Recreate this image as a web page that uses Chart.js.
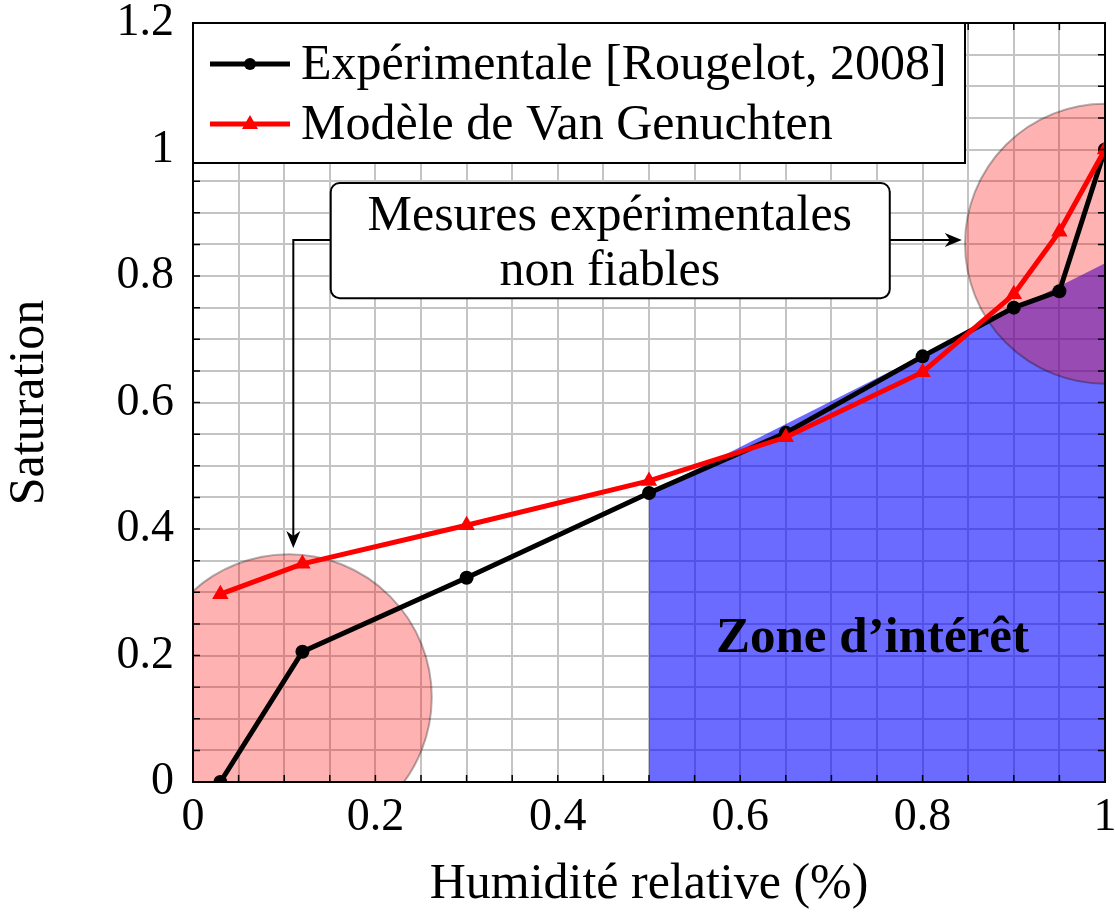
<!DOCTYPE html>
<html>
<head>
<meta charset="utf-8">
<script src="https://cdn.jsdelivr.net/npm/chart.js@4.4.1/dist/chart.umd.min.js"></script>
<style>
html, body { margin: 0; padding: 0; background: #fff; }
</style>
</head>
<body>
<canvas id="satChart" width="1115" height="915"></canvas>
<script>
// data
var humidity = [0.03, 0.12, 0.3, 0.5, 0.65, 0.8, 0.9, 0.95, 1];
var satExp = [0, 0.206, 0.323, 0.457, 0.552, 0.673, 0.75, 0.776, 1];
var satVG = [0.297, 0.345, 0.406, 0.476, 0.545, 0.648, 0.771, 0.87, 1];
var zoneX = [0.5, 1];
var zoneY = [0.457, 0.82];
var circleX = [0.105, 1];
var circleY = [0.134, 0.851];
var circleR = [143, 140];
var xTickLabels = ['0', '0.2', '0.4', '0.6', '0.8', '1'];
var yTickLabels = ['0', '0.2', '0.4', '0.6', '0.8', '1', '1.2'];
var seriesNames = ['Expérimentale [Rougelot, 2008]', 'Modèle de Van Genuchten'];
var noteLines = ['Mesures expérimentales', 'non fiables'];
var zoneLabel = 'Zone d\u2019intérêt';

var serif = "'Liberation Serif', 'Times New Roman', serif";

function pts(xs, ys) {
    return xs.map(function (x, i) { return { x: x, y: ys[i] }; });
}

function tickLabel(labels, value) {
    var i = Math.round(value / 0.05);
    if (i % 4 !== 0) return '';
    return labels[i / 4];
}

function arrowHead(ctx, x, y, dir) {
    ctx.beginPath();
    if (dir === 'down') {
        ctx.moveTo(x, y);
        ctx.lineTo(x - 7, y - 17);
        ctx.lineTo(x, y - 12);
        ctx.lineTo(x + 7, y - 17);
    } else {
        ctx.moveTo(x, y);
        ctx.lineTo(x - 17, y - 7);
        ctx.lineTo(x - 12, y);
        ctx.lineTo(x - 17, y + 7);
    }
    ctx.closePath();
    ctx.fill();
}

function roundRect(ctx, x, y, w, h, r) {
    ctx.beginPath();
    ctx.moveTo(x + r, y);
    ctx.lineTo(x + w - r, y);
    ctx.arcTo(x + w, y, x + w, y + r, r);
    ctx.lineTo(x + w, y + h - r);
    ctx.arcTo(x + w, y + h, x + w - r, y + h, r);
    ctx.lineTo(x + r, y + h);
    ctx.arcTo(x, y + h, x, y + h - r, r);
    ctx.lineTo(x, y + r);
    ctx.arcTo(x, y, x + r, y, r);
    ctx.closePath();
}

var decorations = {
    id: 'decorations',
    afterDraw: function (chart) {
        var ctx = chart.ctx;
        var xs = chart.scales.x, ys = chart.scales.y;
        var ca = chart.chartArea;
        ctx.save();

        // inward minor ticks
        ctx.strokeStyle = '#000';
        ctx.lineWidth = 1.5;
        ctx.beginPath();
        ys.ticks.forEach(function (t) {
            var py = ys.getPixelForValue(t.value);
            ctx.moveTo(ca.left, py); ctx.lineTo(ca.left + 7, py);
            ctx.moveTo(ca.right, py); ctx.lineTo(ca.right - 7, py);
        });
        xs.ticks.forEach(function (t) {
            var px = xs.getPixelForValue(t.value);
            ctx.moveTo(px, ca.bottom); ctx.lineTo(px, ca.bottom - 7);
            ctx.moveTo(px, ca.top); ctx.lineTo(px, ca.top + 7);
        });
        ctx.stroke();

        // frame
        ctx.lineWidth = 2;
        ctx.strokeRect(ca.left, ca.top, ca.right - ca.left, ca.bottom - ca.top);

        // legend box
        var lx = ca.left, ly = ca.top;
        ctx.fillStyle = '#fff';
        ctx.fillRect(lx, ly, 772, 140);
        ctx.strokeRect(lx, ly, 772, 140);
        var rows = [41, 101];
        var colors = ['#000', '#ff0000'];
        ctx.font = '50px ' + serif;
        ctx.textAlign = 'left';
        ctx.textBaseline = 'alphabetic';
        rows.forEach(function (dy, i) {
            var y = ly + dy;
            ctx.strokeStyle = colors[i];
            ctx.fillStyle = colors[i];
            ctx.lineWidth = 5;
            ctx.beginPath();
            ctx.moveTo(lx + 17, y); ctx.lineTo(lx + 97, y);
            ctx.stroke();
            ctx.beginPath();
            if (i === 0) {
                ctx.arc(lx + 57, y, 6, 0, Math.PI * 2);
            } else {
                ctx.moveTo(lx + 57, y - 9);
                ctx.lineTo(lx + 65, y + 5);
                ctx.lineTo(lx + 49, y + 5);
                ctx.closePath();
            }
            ctx.fill();
            ctx.fillStyle = '#000';
            ctx.fillText(seriesNames[i], lx + 108, y + 15);
        });

        // note box with arrows
        var bx0 = xs.getPixelForValue(0.151), bx1 = xs.getPixelForValue(0.764);
        var by0 = ys.getPixelForValue(0.947), by1 = ys.getPixelForValue(0.765);
        var ay = ys.getPixelForValue(0.857);
        var axl = xs.getPixelForValue(0.11), ayEnd = ys.getPixelForValue(0.37);
        var axr = xs.getPixelForValue(0.843);
        ctx.strokeStyle = '#000';
        ctx.fillStyle = '#000';
        ctx.lineWidth = 2;
        ctx.beginPath();
        ctx.moveTo(bx0, ay); ctx.lineTo(axl, ay); ctx.lineTo(axl, ayEnd - 8);
        ctx.moveTo(bx1, ay); ctx.lineTo(axr - 8, ay);
        ctx.stroke();
        arrowHead(ctx, axl, ayEnd, 'down');
        arrowHead(ctx, axr, ay, 'right');
        roundRect(ctx, bx0, by0, bx1 - bx0, by1 - by0, 9);
        ctx.fillStyle = '#fff';
        ctx.fill();
        ctx.stroke();
        ctx.fillStyle = '#000';
        ctx.textAlign = 'center';
        var cx = xs.getPixelForValue(0.457);
        ctx.fillText(noteLines[0], cx, ys.getPixelForValue(0.873));
        ctx.fillText(noteLines[1], cx, ys.getPixelForValue(0.786));

        // zone label
        ctx.font = 'bold 51px ' + serif;
        ctx.fillText(zoneLabel, xs.getPixelForValue(0.745), ys.getPixelForValue(0.205));
        ctx.restore();
    }
};

var ctx = document.getElementById('satChart').getContext('2d');
var satChart = new Chart(ctx, {
    type: 'line',
    data: {
        datasets: [{
            label: seriesNames[1],
            data: pts(humidity, satVG),
            borderColor: '#ff0000',
            backgroundColor: '#ff0000',
            borderWidth: 5,
            pointStyle: 'triangle',
            pointRadius: 9.5,
            pointBorderWidth: 0,
            fill: false,
            order: 0
        }, {
            label: seriesNames[0],
            data: pts(humidity, satExp),
            borderColor: '#000',
            backgroundColor: '#000',
            borderWidth: 5,
            pointStyle: 'circle',
            pointRadius: 7,
            pointBorderWidth: 0,
            fill: false,
            order: 1
        }, {
            type: 'bubble',
            label: 'zones',
            data: circleX.map(function (x, i) { return { x: x, y: circleY[i], r: circleR[i] }; }),
            backgroundColor: 'rgba(255,0,0,0.3)',
            borderColor: 'rgba(0,0,0,0.3)',
            borderWidth: 2,
            clip: 0,
            order: 2
        }, {
            label: 'zone',
            data: pts(zoneX, zoneY),
            borderColor: 'transparent',
            borderWidth: 0,
            backgroundColor: 'rgba(0,0,255,0.58)',
            pointRadius: 0,
            fill: 'origin',
            order: 3
        }]
    },
    options: {
        responsive: false,
        animation: false,
        events: [],
        layout: { autoPadding: false, padding: { top: 23, right: 10, left: 0, bottom: 0 } },
        plugins: {
            legend: { display: false },
            tooltip: { enabled: false }
        },
        scales: {
            x: {
                type: 'linear',
                min: 0,
                max: 1,
                afterFit: function (scale) {
                    scale.height = 133;
                    scale.paddingLeft = 0;
                    scale.paddingRight = 0;
                },
                grid: { color: '#c4c4c4', lineWidth: 2, drawTicks: false },
                border: { display: false },
                ticks: {
                    stepSize: 0.05,
                    autoSkip: false,
                    maxRotation: 0,
                    padding: 13,
                    color: '#000',
                    font: { family: serif, size: 46, lineHeight: 1 },
                    callback: function (v) { return tickLabel(xTickLabels, v); }
                },
                title: {
                    display: true,
                    text: 'Humidité relative (%)',
                    color: '#000',
                    padding: 0,
                    font: { family: serif, size: 50 }
                }
            },
            y: {
                min: 0,
                max: 1.2,
                afterFit: function (scale) {
                    scale.width = 193;
                    scale.paddingTop = 0;
                    scale.paddingBottom = 0;
                },
                grid: { color: '#c4c4c4', lineWidth: 2, drawTicks: false },
                border: { display: false },
                ticks: {
                    stepSize: 0.05,
                    autoSkip: false,
                    padding: 19,
                    color: '#000',
                    font: { family: serif, size: 46, lineHeight: 1 },
                    callback: function (v) { return tickLabel(yTickLabels, v); }
                },
                title: {
                    display: true,
                    text: 'Saturation',
                    color: '#000',
                    padding: 0,
                    font: { family: serif, size: 50 }
                }
            }
        }
    },
    plugins: [decorations]
});
</script>
</body>
</html>
